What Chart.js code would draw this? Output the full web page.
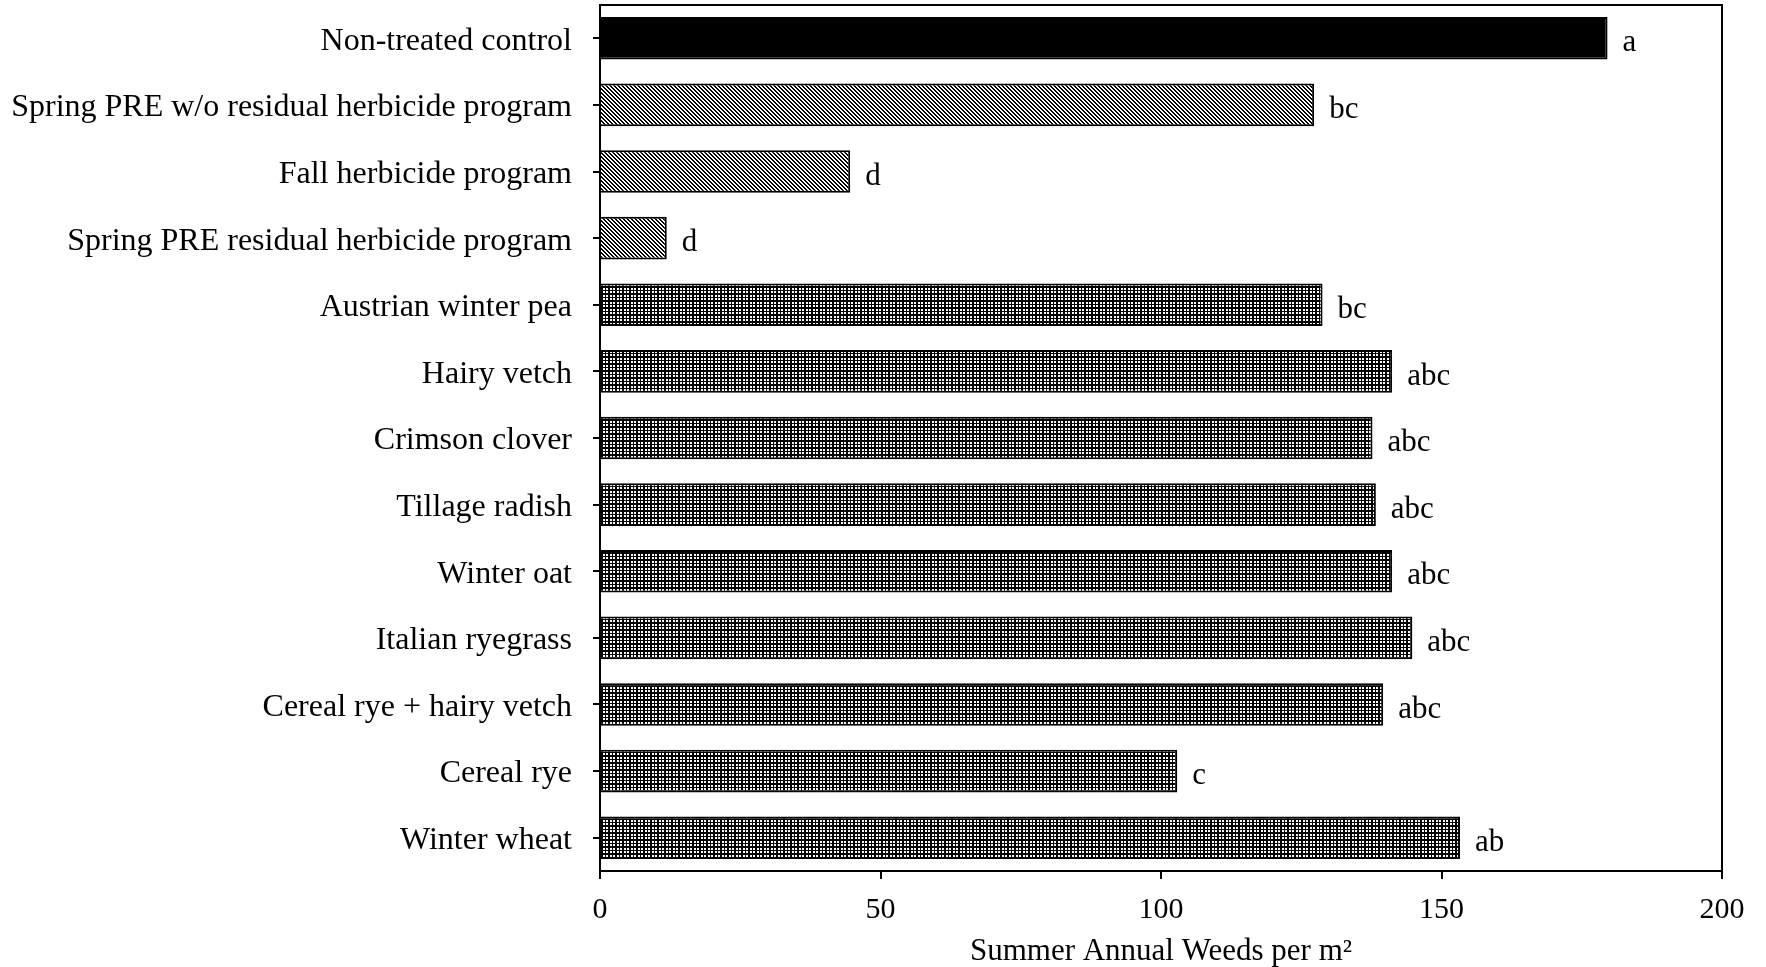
<!DOCTYPE html>
<html>
<head>
<meta charset="utf-8">
<script src="https://cdn.jsdelivr.net/npm/chart.js@4.4.1/dist/chart.umd.min.js"></script>
<style>
  html, body { margin: 0; padding: 0; background: #fff; }
  #wrap { width: 1766px; height: 967px; }
</style>
</head>
<body>
<div id="wrap"><canvas id="weedsChart"></canvas></div>
<script>
const treatments = [
    'Non-treated control',
    'Spring PRE w/o residual herbicide program',
    'Fall herbicide program',
    'Spring PRE residual herbicide program',
    'Austrian winter pea',
    'Hairy vetch',
    'Crimson clover',
    'Tillage radish',
    'Winter oat',
    'Italian ryegrass',
    'Cereal rye + hairy vetch',
    'Cereal rye',
    'Winter wheat',
]
const weedsPerM2 = [179.6, 127.3, 44.6, 11.9, 128.8, 141.2, 137.7, 138.3, 141.2, 144.8, 139.6, 102.9, 153.3]
const letters = ['a', 'bc', 'd', 'd', 'bc', 'abc', 'abc', 'abc', 'abc', 'abc', 'abc', 'c', 'ab']
// fill style per treatment: control / herbicide programs / cover crops
const groups = ['solid', 'hatch', 'hatch', 'hatch', 'dots', 'dots', 'dots', 'dots', 'dots', 'dots', 'dots', 'dots', 'dots']
const xTicks = [0, 50, 100, 150, 200]

const FONT = "'Liberation Serif', 'Times New Roman', serif"

function makePattern(size, draw) {
    const c = document.createElement('canvas')
    c.width = size
    c.height = size
    const g = c.getContext('2d')
    draw(g)
    return g.createPattern(c, 'repeat')
}

// diagonal "\" hatching, black on white
const hatch = makePattern(4, g => {
    g.fillStyle = '#fff'
    g.fillRect(0, 0, 4, 4)
    g.fillStyle = '#000'
    for (let y = 0; y < 4; y++) {
        g.fillRect(y % 4, y, 1, 1)
        g.fillRect((y + 1) % 4, y, 1, 1)
    }
})

// white dots on black
const dots = makePattern(7, g => {
    g.fillStyle = '#000'
    g.fillRect(0, 0, 7, 7)
    g.fillStyle = '#fff'
    for (const x of [1, 4]) {
        for (const y of [1, 4]) g.fillRect(x, y, 2, 2)
    }
})

const fills = { solid: '#000', hatch: hatch, dots: dots }

const frameAndLetters = {
    id: 'frameAndLetters',
    afterDatasetsDraw(chart) {
        const { ctx, chartArea } = chart
        const xs = chart.scales.x
        const ys = chart.scales.y
        ctx.save()
        ctx.strokeStyle = '#000'
        ctx.lineWidth = 2
        ctx.beginPath()
        ctx.moveTo(chartArea.left, chartArea.top)
        ctx.lineTo(chartArea.right, chartArea.top)
        ctx.lineTo(chartArea.right, chartArea.bottom)
        ctx.stroke()

        ctx.fillStyle = '#000'
        ctx.font = '31px ' + FONT
        ctx.textBaseline = 'middle'
        ctx.textAlign = 'left'
        letters.forEach((l, i) => {
            ctx.fillText(l, xs.getPixelForValue(weedsPerM2[i]) + 15, ys.getPixelForValue(i) + 5)
        })
        ctx.restore()
    }
}

new Chart(document.getElementById('weedsChart').getContext('2d'), {
    type: 'bar',
    data: {
        labels: treatments,
        datasets: [{
            data: weedsPerM2,
            backgroundColor: groups.map(g => fills[g]),
            borderColor: '#000',
            borderWidth: 2,
            barPercentage: 0.64,
            categoryPercentage: 1,
        }]
    },
    options: {
        indexAxis: 'y',
        responsive: true,
        maintainAspectRatio: false,
        animation: false,
        layout: { padding: { top: 5, right: 44, left: 0, bottom: 0 } },
        plugins: {
            legend: { display: false },
            tooltip: { enabled: false },
        },
        scales: {
            x: {
                min: 0,
                max: 200,
                afterBuildTicks(scale) { scale.ticks = xTicks.map(v => ({ value: v })) },
                afterFit(scale) { scale.height = 96 },
                grid: { drawOnChartArea: false, drawTicks: true, tickLength: 8, color: '#000', lineWidth: 2 },
                border: { display: true, color: '#000', width: 2 },
                ticks: { color: '#000', font: { family: FONT, size: 30 }, padding: 13, maxRotation: 0 },
                title: {
                    display: true,
                    text: 'Summer Annual Weeds per m²',
                    color: '#000',
                    font: { family: FONT, size: 31, lineHeight: 1 },
                    padding: { top: 0, bottom: 0 },
                },
            },
            y: {
                afterFit(scale) {
                    scale.width = 600
                    scale.paddingTop = 0
                    scale.paddingBottom = 0
                },
                grid: { offset: false, drawOnChartArea: false, drawTicks: true, tickLength: 7, color: '#000', lineWidth: 2 },
                border: { display: true, color: '#000', width: 2 },
                ticks: { color: '#000', font: { family: FONT, size: 32 }, padding: 21, labelOffset: 3, autoSkip: false },
            },
        },
    },
    plugins: [frameAndLetters],
})
</script>
</body>
</html>
